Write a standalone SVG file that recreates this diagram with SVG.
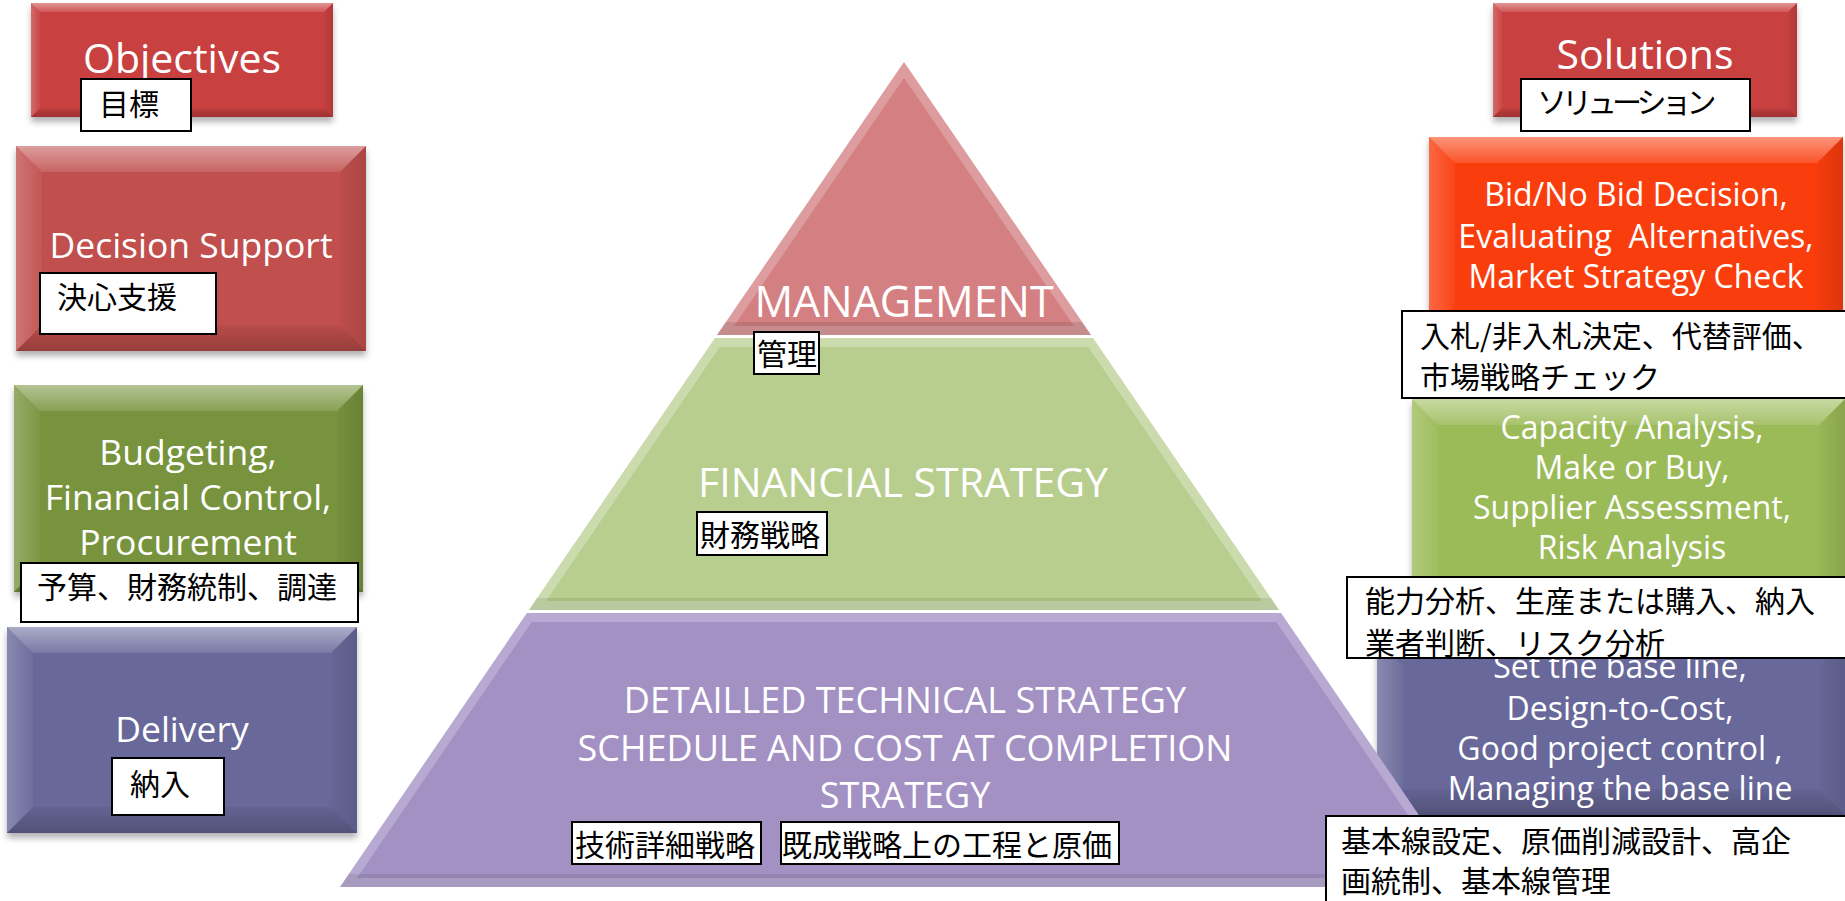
<svg xmlns="http://www.w3.org/2000/svg" width="1845" height="901" viewBox="0 0 1845 901">
<defs>
<style>
.t{font-family:'Open Sans','Liberation Sans',sans-serif;fill:#fff;text-anchor:middle}
.j{font-family:'Noto Sans CJK JP','Noto Sans CJK SC',sans-serif;fill:#000;font-size:30px}
.lb{fill:#fff;stroke:#000;stroke-width:2}
.bt{fill:url(#gTop)}
.bb{fill:url(#gBot)}
.bl{fill:url(#gLeft)}
.br{fill:url(#gRight)}
</style>
<linearGradient id="gTop" x1="0" y1="0" x2="0" y2="1"><stop offset="0" stop-color="#fff" stop-opacity="0.45"/><stop offset="1" stop-color="#fff" stop-opacity="0.12"/></linearGradient>
<linearGradient id="gBot" x1="0" y1="0" x2="0" y2="1"><stop offset="0" stop-color="#000" stop-opacity="0.04"/><stop offset="1" stop-color="#000" stop-opacity="0.22"/></linearGradient>
<linearGradient id="gLeft" x1="0" y1="0" x2="1" y2="0"><stop offset="0" stop-color="#fff" stop-opacity="0.22"/><stop offset="1" stop-color="#fff" stop-opacity="0.04"/></linearGradient>
<linearGradient id="gRight" x1="0" y1="0" x2="1" y2="0"><stop offset="0" stop-color="#000" stop-opacity="0.02"/><stop offset="1" stop-color="#000" stop-opacity="0.12"/></linearGradient>
<filter id="sh" x="-5%" y="-5%" width="110%" height="120%"><feDropShadow dx="0" dy="5" stdDeviation="3" flood-color="#000" flood-opacity="0.3"/></filter>
<clipPath id="cM"><polygon points="904,62 1091,335 717,335"/></clipPath>
<clipPath id="cF"><polygon points="715,338 1093,338 1279,610 529,610"/></clipPath>
<clipPath id="cT"><polygon points="527,613 1281,613 1468,887 340,887"/></clipPath>
</defs>

<g id="connectors"/>

<!-- Left column -->
<g id="n-objectives">
<rect x="31" y="3" width="302" height="114" fill="#C8403F" filter="url(#sh)"/>
<polygon class="bt" points="31,3 333,3 324,12 40,12"/>
<polygon class="bl" points="31,3 40,12 40,108 31,117"/>
<polygon class="br" points="333,3 333,117 324,108 324,12"/>
<polygon class="bb" points="31,117 40,108 324,108 333,117"/>
<text class="t" x="182" y="73" font-size="41">Objectives</text>
<rect class="lb" x="81" y="79" width="110" height="52"/>
<text class="j" x="99" y="115">目標</text>
</g>

<g id="n-decision">
<rect x="16" y="146" width="350" height="205" fill="#C0504D" filter="url(#sh)"/>
<polygon class="bt" points="16,146 366,146 340,172 42,172"/>
<polygon class="bl" points="16,146 42,172 42,325 16,351"/>
<polygon class="br" points="366,146 366,351 340,325 340,172"/>
<polygon class="bb" points="16,351 42,325 340,325 366,351"/>
<text class="t" x="191" y="258" font-size="35.5">Decision Support</text>
<rect class="lb" x="40" y="273" width="176" height="61"/>
<text class="j" x="57" y="308">決心支援</text>
</g>

<g id="n-budget">
<rect x="14" y="385" width="349" height="207" fill="#77933C" filter="url(#sh)"/>
<polygon class="bt" points="14,385 363,385 337,411 40,411"/>
<polygon class="bl" points="14,385 40,411 40,566 14,592"/>
<polygon class="br" points="363,385 363,592 337,566 337,411"/>
<polygon class="bb" points="14,592 40,566 337,566 363,592"/>
<text class="t" font-size="35.5"><tspan x="188" y="465">Budgeting,</tspan><tspan x="188" y="510">Financial Control,</tspan><tspan x="188" y="555">Procurement</tspan></text>
<rect class="lb" x="21" y="563" width="337" height="59"/>
<text class="j" x="37" y="598">予算、財務統制、調達</text>
</g>

<g id="n-delivery">
<rect x="7" y="627" width="350" height="206" fill="#67679A" filter="url(#sh)"/>
<polygon class="bt" points="7,627 357,627 331,653 33,653"/>
<polygon class="bl" points="7,627 33,653 33,807 7,833"/>
<polygon class="br" points="357,627 357,833 331,807 331,653"/>
<polygon class="bb" points="7,833 33,807 331,807 357,833"/>
<text class="t" x="182" y="742" font-size="35.5">Delivery</text>
<rect class="lb" x="112" y="758" width="112" height="57"/>
<text class="j" x="130" y="795">納入</text>
</g>

<!-- Right column -->
<g id="n-solutions">
<rect x="1493" y="3" width="304" height="114" fill="#C8403F" filter="url(#sh)"/>
<polygon class="bt" points="1493,3 1797,3 1788,12 1502,12"/>
<polygon class="bl" points="1493,3 1502,12 1502,108 1493,117"/>
<polygon class="br" points="1797,3 1797,117 1788,108 1788,12"/>
<polygon class="bb" points="1493,117 1502,108 1788,108 1797,117"/>
<text class="t" x="1645" y="69" font-size="41">Solutions</text>
<rect class="lb" x="1521" y="79" width="229" height="52"/>
<text class="j" x="1537" y="113" letter-spacing="-5">ソリューション</text>
</g>

<g id="n-bid">
<rect x="1429" y="137" width="414" height="195" fill="#FA3C0C" filter="url(#sh)"/>
<polygon class="bt" points="1429,137 1843,137 1817,163 1455,163"/>
<polygon class="bl" points="1429,137 1455,163 1455,306 1429,332"/>
<polygon class="br" points="1843,137 1843,332 1817,306 1817,163"/>
<text class="t" font-size="32"><tspan x="1636" y="206">Bid/No Bid Decision,</tspan><tspan x="1636" y="248">Evaluating &#160;Alternatives,</tspan><tspan x="1636" y="288">Market Strategy Check</tspan></text>
<rect class="lb" x="1402" y="311" width="460" height="87"/>
<text class="j"><tspan x="1420" y="347">入札/非入札決定、代替評価、</tspan><tspan x="1420" y="388">市場戦略チェック</tspan></text>
</g>

<g id="n-baseline">
<rect x="1377" y="640" width="468" height="175" fill="#67679A" filter="url(#sh)"/>
<polygon class="bl" points="1377,640 1403,666 1403,789 1377,815"/>
<polygon class="br" points="1845,640 1845,815 1819,789 1819,666"/>
<polygon class="bb" points="1377,815 1403,789 1819,789 1845,815"/>
<text class="t" font-size="32"><tspan x="1620" y="678">Set the base line,</tspan><tspan x="1620" y="720">Design-to-Cost,</tspan><tspan x="1620" y="760">Good project control ,</tspan><tspan x="1620" y="800">Managing the base line</tspan></text>
</g>

<g id="n-capacity">
<rect x="1412" y="399" width="433" height="205" fill="#9BBB59" filter="url(#sh)"/>
<polygon class="bt" points="1412,399 1845,399 1819,425 1438,425"/>
<polygon class="bl" points="1412,399 1438,425 1438,578 1412,604"/>
<polygon class="br" points="1845,399 1845,604 1819,578 1819,425"/>
<text class="t" font-size="32"><tspan x="1632" y="439">Capacity Analysis,</tspan><tspan x="1632" y="479">Make or Buy,</tspan><tspan x="1632" y="519">Supplier Assessment,</tspan><tspan x="1632" y="559">Risk Analysis</tspan></text>
<rect class="lb" x="1347" y="577" width="510" height="81"/>
<text class="j"><tspan x="1365" y="612">能力分析、生産または購入、納入</tspan><tspan x="1365" y="654">業者判断、リスク分析</tspan></text>
</g>

<!-- Pyramid -->
<g id="n-technical">
<polygon points="527,613 1281,613 1468,887 340,887" fill="#A391C4"/>
<g clip-path="url(#cT)">
<polygon points="527,613 1281,613 1468,887 340,887" fill="none" stroke="#fff" stroke-opacity="0.22" stroke-width="18"/>
<rect x="330" y="874" width="1150" height="13" fill="#000" fill-opacity="0.08"/>
</g>
<text class="t" font-size="36"><tspan x="905" y="713">DETAILLED TECHNICAL STRATEGY</tspan><tspan x="905" y="761">SCHEDULE AND COST AT COMPLETION</tspan><tspan x="905" y="808">STRATEGY</tspan></text>
<rect class="lb" x="572" y="822" width="189" height="42"/>
<text class="j" x="575" y="856" font-size="30.5">技術詳細戦略</text>
<rect class="lb" x="781" y="822" width="338" height="42"/>
<text class="j" x="782" y="856" font-size="30.5">既成戦略上の工程と原価</text>
</g>

<g id="n-financial">
<polygon points="715,338 1093,338 1279,610 529,610" fill="#B8CE8F"/>
<g clip-path="url(#cF)">
<polygon points="715,338 1093,338 1279,610 529,610" fill="none" stroke="#fff" stroke-opacity="0.28" stroke-width="18"/>
<rect x="520" y="598" width="770" height="12" fill="#000" fill-opacity="0.08"/>
</g>
<text class="t" x="903" y="497" font-size="41">FINANCIAL STRATEGY</text>
<rect class="lb" x="697" y="512" width="130" height="43"/>
<text class="j" x="700" y="546" font-size="31">財務戦略</text>
</g>

<g id="n-management">
<polygon points="904,62 1091,335 717,335" fill="#D48083"/>
<g clip-path="url(#cM)">
<polygon points="904,62 1091,335 717,335" fill="none" stroke="#fff" stroke-opacity="0.22" stroke-width="18"/>
<rect x="700" y="322" width="410" height="13" fill="#000" fill-opacity="0.1"/>
</g>
<text class="t" x="904" y="317" font-size="43">MANAGEMENT</text>
<rect class="lb" x="754" y="332" width="65" height="42"/>
<text class="j" x="757" y="365">管理</text>
</g>

<g id="n-baseline-label">
<rect class="lb" x="1326" y="816" width="530" height="100"/>
<text class="j"><tspan x="1341" y="852">基本線設定、原価削減設計、高企</tspan><tspan x="1341" y="892">画統制、基本線管理</tspan></text>
</g>
</svg>
